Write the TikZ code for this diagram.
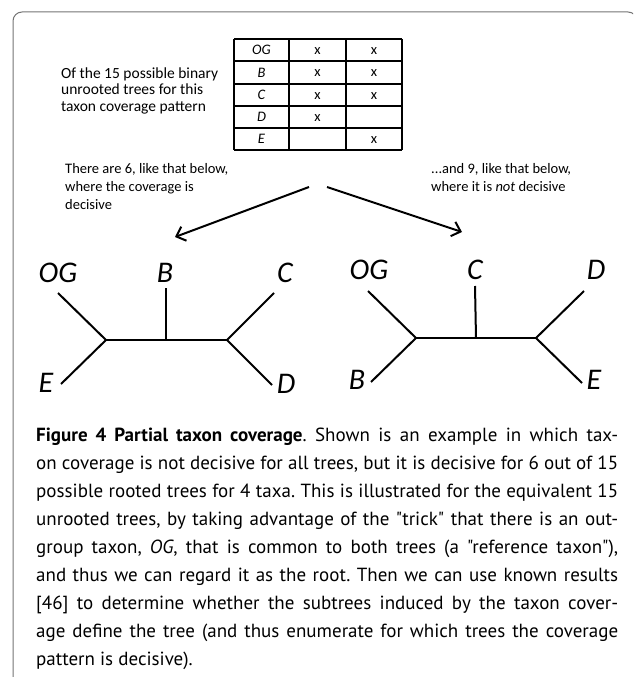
\documentclass[tikz,border=0pt]{standalone}
\usepackage{fontspec}
\setmainfont{Carlito}
\newfontfamily\capfont{PT Sans}
\usetikzlibrary{arrows.meta}
\frenchspacing
\begin{document}
\begin{tikzpicture}[x=1pt,y=-1pt,
  frameline/.style={draw=black!55, line width=1pt, rounded corners=9pt},
  tabline/.style={line width=1.3pt},
  cell/.style={inner sep=0pt, font=\fontsize{14.5}{16}\selectfont},
  note/.style={inner sep=0pt, anchor=base west, font=\fontsize{14.5}{17}\selectfont},
  topnote/.style={inner sep=0pt, anchor=base west, font=\fontsize{15.5}{17}\selectfont},
  branch/.style={line width=2pt},
  leaf/.style={inner sep=0pt, font=\fontsize{30}{32}\selectfont\itshape},
  bigarrow/.style={line width=2pt, -{Straight Barb[length=8pt,width=15pt,line width=2pt]}},
  capline/.style={inner sep=0pt, anchor=base west, font=\capfont\fontsize{19}{28}\selectfont\frenchspacing}]
\useasboundingbox (0,0) rectangle (633,677);
\begin{scope}
\clip (0,0) rectangle (633,677);
\draw[frameline] (13,12) rectangle (637,720);
\end{scope}

% top-left text
\node[topnote] (t1) at (61,78) {Of the 15 possible binary};
\node[topnote] (t2) at (61,94.5) {unrooted trees for this};
\node[topnote] (t3) at (61,111) {taxon coverage pattern};

% table
\foreach \y in {39,61,84,106,128,150} \draw[tabline] (234,\y) -- (402,\y);
\foreach \x in {234,289,346,402} \draw[tabline] (\x,39) -- (\x,150);
\node[cell] (rOG) at (261.5,50) {\itshape OG};
\node[cell] (rB) at (261.5,72.5) {\itshape B};
\node[cell] (rC) at (261.5,95) {\itshape C};
\node[cell] (rD) at (261.5,117) {\itshape D};
\node[cell] (rE) at (261.5,139) {\itshape E};
\node[cell] (x11) at (317.5,51) {x};
\node[cell] (x12) at (374,51) {x};
\node[cell] (x21) at (317.5,73.5) {x};
\node[cell] (x22) at (374,73.5) {x};
\node[cell] (x31) at (317.5,96) {x};
\node[cell] (x32) at (374,96) {x};
\node[cell] (x41) at (317.5,118) {x};
\node[cell] (x52) at (374,140) {x};

% arrow texts
\node[note] (l1) at (65,173) {There are 6, like that below,};
\node[note] (l2) at (65,191) {where the coverage is};
\node[note] (l3) at (65,209) {decisive};
\node[note] (r1) at (431,173) {...and 9, like that below,};
\node[note] (r2) at (431,191) {where it is \textit{not} decisive};

% arrows
\coordinate (aL0) at (309,187);
\coordinate (aL1) at (175,237);
\coordinate (aR0) at (327,187);
\coordinate (aR1) at (462,232);
\draw[bigarrow] (aL0) -- (aL1);
\draw[bigarrow] (aR0) -- (aR1);

% left tree
\coordinate (L1) at (106,340);
\coordinate (L2) at (227,340);
\coordinate (LB) at (166,340);
\coordinate (eOG) at (58,293);
\coordinate (eB) at (166,288);
\coordinate (eC) at (274,293);
\coordinate (eE) at (61,384);
\coordinate (eD) at (272,385);
\draw[branch] (eOG) -- (L1) -- (eE);
\draw[branch] (L1) -- (L2);
\draw[branch] (eC) -- (L2) -- (eD);
\draw[branch] (LB) -- (eB);
\node[leaf] (lOG) at (58,273) {OG};
\node[leaf] (lB) at (165,273) {B};
\node[leaf] (lC) at (285,273) {C};
\node[leaf] (lE) at (46,383) {E};
\node[leaf] (lD) at (286,384) {D};

% right tree
\coordinate (R1) at (416,338);
\coordinate (R2) at (536,338);
\coordinate (RC) at (476,338);
\coordinate (fOG) at (368,291);
\coordinate (fC) at (475,286);
\coordinate (fB) at (371,382);
\coordinate (fD) at (584,291);
\coordinate (fE) at (582,383);
\draw[branch] (fOG) -- (R1) -- (fB);
\draw[branch] (R1) -- (R2);
\draw[branch] (fD) -- (R2) -- (fE);
\draw[branch] (RC) -- (fC);
\node[leaf] (mOG) at (369,270) {OG};
\node[leaf] (mC) at (475,270) {C};
\node[leaf] (mD) at (596,270) {D};
\node[leaf] (mB) at (357,380) {B};
\node[leaf] (mE) at (594,380) {E};

% caption
\node[capline] (c1) at (36,441) {\makebox[582pt][s]{\textbf{Figure 4 Partial taxon coverage}. Shown is an example in which tax-}};
\node[capline] (c2) at (36,469) {\makebox[582pt][s]{on coverage is not decisive for all trees, but it is decisive for 6 out of 15}};
\node[capline] (c3) at (36,497) {\makebox[582pt][s]{possible rooted trees for 4 taxa. This is illustrated for the equivalent 15}};
\node[capline] (c4) at (36,525) {\makebox[582pt][s]{unrooted trees, by taking advantage of the "trick" that there is an out-}};
\node[capline] (c5) at (36,553) {\makebox[582pt][s]{group taxon, \textit{OG}, that is common to both trees (a "reference taxon"),}};
\node[capline] (c6) at (36,581) {\makebox[582pt][s]{and thus we can regard it as the root. Then we can use known results}};
\node[capline] (c7) at (36,609) {\makebox[582pt][s]{[46] to determine whether the subtrees induced by the taxon cover-}};
\node[capline] (c8) at (36,637) {\makebox[582pt][s]{age define the tree (and thus enumerate for which trees the coverage}};
\node[capline] (c9) at (36,665) {pattern is decisive).};
\end{tikzpicture}
\end{document}
